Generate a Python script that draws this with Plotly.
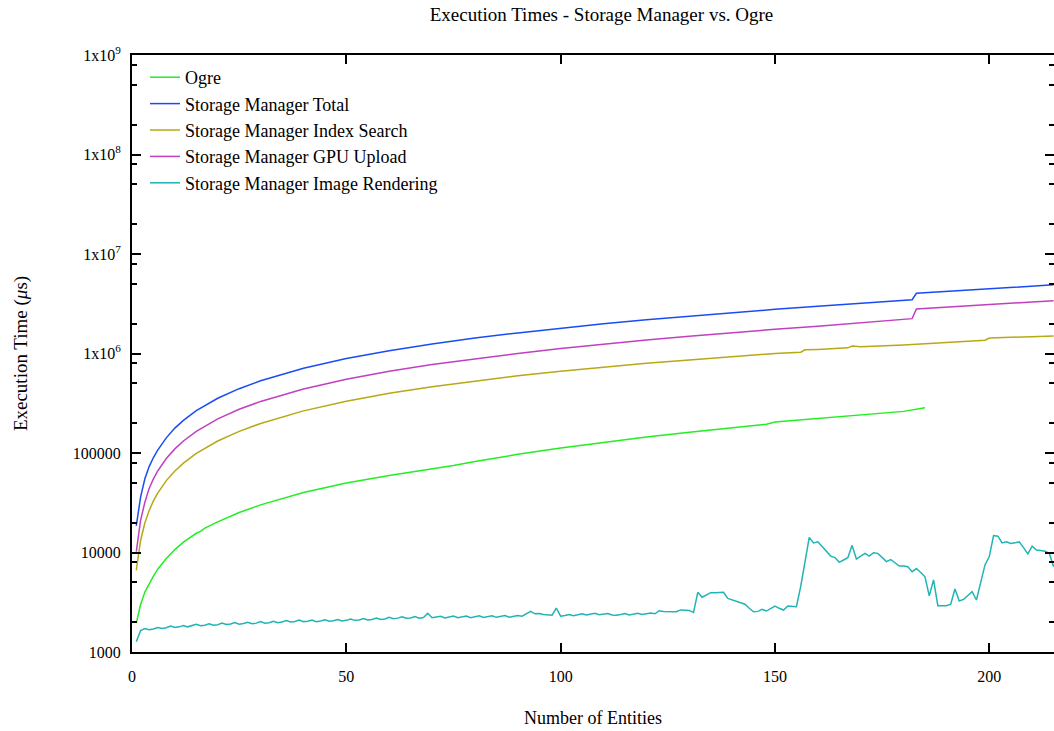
import plotly.graph_objects as go

# ---------------- data ----------------
total_x = [1, 2, 3, 4, 5, 6, 8, 10, 12, 15, 20, 25, 30, 40, 50, 60, 70, 80, 90, 100,
           110, 120, 130, 140, 150, 160, 170, 180, 182, 183, 190, 200, 205, 210, 215]
total_y = [18.5e3, 36e3, 55e3, 73e3, 90e3, 107e3, 142e3, 178e3, 213e3, 266e3, 355e3,
           443e3, 532e3, 710e3, 890e3, 1.065e6, 1.245e6, 1.43e6, 1.61e6, 1.80e6,
           1.99e6, 2.18e6, 2.37e6, 2.57e6, 2.78e6, 2.99e6, 3.2e6, 3.42e6, 3.47e6,
           4.03e6, 4.2e6, 4.45e6, 4.6e6, 4.75e6, 4.9e6]

gpu_x = total_x
gpu_y = [10.2e3, 21e3, 32e3, 44e3, 55e3, 66e3, 88e3, 110e3, 132e3, 165e3, 220e3,
         275e3, 330e3, 440e3, 552e3, 663e3, 775e3, 888e3, 1.0e6, 1.12e6, 1.24e6,
         1.37e6, 1.49e6, 1.62e6, 1.75e6, 1.88e6, 2.03e6, 2.2e6, 2.24e6, 2.8e6,
         2.93e6, 3.12e6, 3.2e6, 3.3e6, 3.38e6]

index_x = [1, 2, 3, 4, 5, 6, 8, 10, 12, 15, 20, 25, 30, 40, 50, 60, 70, 80, 90, 100,
           110, 120, 130, 140, 150, 156, 157, 160, 167, 168, 170, 180, 190, 199, 200,
           210, 215]
index_y = [6.6e3, 13.2e3, 19.8e3, 26.4e3, 33e3, 39.6e3, 52.8e3, 66e3, 79e3, 99e3,
           132e3, 165e3, 198e3, 265e3, 331e3, 398e3, 464e3, 530e3, 597e3, 663e3,
           730e3, 796e3, 862e3, 930e3, 1.0e6, 1.03e6, 1.09e6, 1.1e6, 1.14e6, 1.19e6,
           1.17e6, 1.22e6, 1.3e6, 1.36e6, 1.43e6, 1.46e6, 1.5e6]

ogre_x = [1, 2, 3, 4, 5, 6, 8, 10, 12, 15, 16, 17, 20, 25, 30, 40, 50, 60, 70, 72, 75,
          80, 90, 100, 110, 120, 130, 140, 148, 150, 160, 170, 180, 185]
ogre_y = [1.95e3, 3.0e3, 4.0e3, 4.9e3, 5.8e3, 6.8e3, 8.7e3, 10.7e3, 12.7e3, 15.6e3,
          16.3e3, 17.6e3, 20.3e3, 25.2e3, 30.1e3, 40e3, 50e3, 59.5e3, 69e3, 71e3,
          75e3, 82e3, 97e3, 112e3, 128e3, 145e3, 162e3, 180e3, 195e3, 205e3, 222e3,
          242e3, 262e3, 285e3]

render_x = list(range(1, 216))
render_y = [
    1270, 1640, 1720, 1670, 1700, 1760, 1720, 1750, 1820, 1760,
    1790, 1850, 1790, 1830, 1900, 1840, 1860, 1920, 1860, 1880,
    1950, 1890, 1910, 1980, 1900, 1930, 1990, 1920, 1950, 2020,
    1950, 1970, 2040, 1970, 2000, 2070, 2000, 2030, 2090, 2020,
    2040, 2100, 2020, 2050, 2110, 2040, 2060, 2120, 2050, 2080,
    2150, 2080, 2100, 2170, 2100, 2120, 2190, 2120, 2150, 2230,
    2160, 2190, 2260, 2180, 2200, 2270, 2190, 2220, 2450, 2210,
    2230, 2290, 2200, 2240, 2300, 2210, 2240, 2300, 2210, 2250,
    2310, 2220, 2250, 2310, 2230, 2260, 2320, 2240, 2270, 2330,
    2290, 2400, 2560, 2420, 2440, 2380, 2360, 2340, 2760, 2290,
    2330, 2380, 2320, 2370, 2420, 2350, 2400, 2450, 2370, 2390,
    2440, 2360, 2340, 2380, 2430, 2360, 2400, 2450, 2380, 2410,
    2460, 2420, 2600, 2560, 2560, 2550, 2540, 2650, 2620, 2620,
    2500, 3980, 3550, 3750, 3950, 3950, 3980, 3980, 3460, 3350,
    3250, 3120, 3020, 2750, 2540, 2560, 2680, 2580, 2750, 2900,
    2750, 2640, 2900, 2850, 2850, 4530, 8400, 14200, 12500, 12800,
    11500, 10200, 9200, 8900, 7960, 8400, 8850, 11800, 8600, 9200,
    9800, 9200, 9950, 9800, 9000, 8100, 8500, 7900, 7300, 7300,
    7200, 6400, 6900, 6300, 5700, 3660, 5300, 2920, 2920, 2920,
    3030, 4300, 3260, 3380, 3700, 4040, 3330, 5000, 7500, 9100,
    14800, 14600, 12500, 12800, 12300, 12500, 12800, 11200, 9700, 11600,
    10600, 10500, 10300, 9800, 7200,
]

names = ["Ogre", "Storage Manager Total", "Storage Manager Index Search",
         "Storage Manager GPU Upload", "Storage Manager Image Rendering"]
colors = ["#22ee22", "#1a4cf5", "#b8a814", "#c040c0", "#20b4b4"]

y_major = [1e3, 1e4, 1e5, 1e6, 1e7, 1e8, 1e9]
y_major_text = ["1000", "10000", "100000", "1x10<sup>6</sup>", "1x10<sup>7</sup>",
                "1x10<sup>8</sup>", "1x10<sup>9</sup>"]
y_minor = [m * 10 ** k for k in range(3, 9) for m in (2, 5, 8)]
x_ticks = [0, 50, 100, 150, 200]

FONT = "Liberation Serif"

fig = go.Figure()
series = [(ogre_x, ogre_y), (total_x, total_y), (index_x, index_y),
          (gpu_x, gpu_y), (render_x, render_y)]
for i, ((xs, ys), nm, c) in enumerate(zip(series, names, colors)):
    fig.add_trace(go.Scatter(x=xs, y=ys, mode="lines", name=nm,
                             line=dict(color=c, width=1.5),
                             legendgroup=str(i)))

# invisible trace for right-side mirrored ticks
fig.add_trace(go.Scatter(x=[0], y=[1e3], yaxis="y2", mode="lines",
                         showlegend=False, hoverinfo="skip",
                         line=dict(width=0)))

W, H = 1054, 731
L, R, T, B = 132, 0, 55, 79

fig.update_layout(
    width=W, height=H,
    margin=dict(l=L, r=R, t=T, b=B),
    paper_bgcolor="white", plot_bgcolor="white",
    font=dict(family=FONT, size=16, color="black"),
    title=dict(text="Execution Times - Storage Manager vs. Ogre",
               x=(601.5 - L) / (W - L - R), xref="paper", xanchor="center",
               y=1 - 14 / H, yanchor="middle", font=dict(size=19)),
    showlegend=True,
    legend=dict(x=(145 - L) / (W - L - R), y=1 - (59 - T) / (H - T - B),
                xanchor="left", yanchor="top", bgcolor="rgba(0,0,0,0)",
                font=dict(family=FONT, size=18), tracegroupgap=0,
                borderwidth=0),
    xaxis=dict(range=[0, 215.1], tickvals=x_ticks, ticks="inside", ticklen=9,
               tickwidth=1.5, tickcolor="black", showline=True, linewidth=2,
               linecolor="black", mirror="ticks", showgrid=False, zeroline=False,
               ticklabelstandoff=9,
               title=dict(text="Number of Entities", standoff=27,
                          font=dict(size=18))),
    yaxis=dict(type="log", range=[3, 9], tickvals=y_major, ticktext=y_major_text,
               ticks="inside", ticklen=9, tickwidth=1.5, tickcolor="black",
               showline=True, linewidth=2, linecolor="black", mirror=False,
               showgrid=False, zeroline=False, ticklabelstandoff=6,
               minor=dict(tickvals=y_minor, ticks="inside", ticklen=5,
                          tickwidth=1.5, tickcolor="black", showgrid=False),
               title=dict(text="Execution Time (<i>μ</i>s)", standoff=40,
                          font=dict(size=19))),
    yaxis2=dict(type="log", range=[3, 9], overlaying="y", side="right",
                tickvals=y_major, ticks="inside", ticklen=9, tickwidth=1.5,
                tickcolor="black", showticklabels=False, showline=False,
                showgrid=False, zeroline=False,
                minor=dict(tickvals=y_minor, ticks="inside", ticklen=5,
                           tickwidth=1.5, tickcolor="black", showgrid=False)),
)

fig.write_html("out.html")
